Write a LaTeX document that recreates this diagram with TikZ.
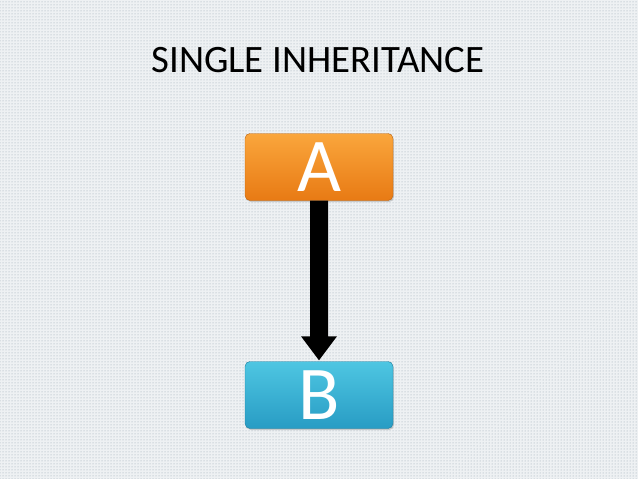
\documentclass[tikz,border=0pt]{standalone}
\usepackage{fontspec}
\setmainfont{Carlito}
\usetikzlibrary{calc,shadows,patterns}
\definecolor{bgc}{RGB}{238,241,243}
\definecolor{dotc}{RGB}{150,165,178}
\definecolor{orTop}{RGB}{250,166,60}
\definecolor{orBot}{RGB}{232,122,20}
\definecolor{blTop}{RGB}{78,198,226}
\definecolor{blBot}{RGB}{40,156,196}
\tikzset{
  box/.style={rounded corners=5pt, minimum width=148pt, minimum height=67pt, inner sep=0pt,
    text=white, font=\fontsize{76}{76}\selectfont, drop shadow={opacity=0.35, shadow xshift=1pt, shadow yshift=-1.5pt}},
  orangebox/.style={box, top color=orTop, bottom color=orBot, draw=orBot!80!black, line width=0.4pt},
  bluebox/.style={box, top color=blTop, bottom color=blBot, draw=blBot!80!black, line width=0.4pt},
  title/.style={font=\fontsize{38.8}{38.8}\selectfont, text=black}
}
\begin{document}
\begin{tikzpicture}[x=1pt,y=-1pt]
\fill[bgc] (0,0) rectangle (638,479);
\fill[pattern=dots, pattern color=dotc] (0,0) rectangle (638,479);
\useasboundingbox (0,0) rectangle (638,479);
\node[title] (T) at (318,60) {SINGLE INHERITANCE};
\node[orangebox] (A) at (319,167) {\raisebox{-2pt}{A}};
\node[bluebox] (B) at (319,395) {\raisebox{-2pt}{B}};
\fill[black] ($(A.south)+(-9,0)$) -- ($(A.south)+(9,0)$) -- ($(B.north)+(9,-25)$) -- ($(B.north)+(18,-25)$) -- ($(B.north)+(0,-1)$) -- ($(B.north)+(-18,-25)$) -- ($(B.north)+(-9,-25)$) -- cycle;
\end{tikzpicture}
\end{document}
